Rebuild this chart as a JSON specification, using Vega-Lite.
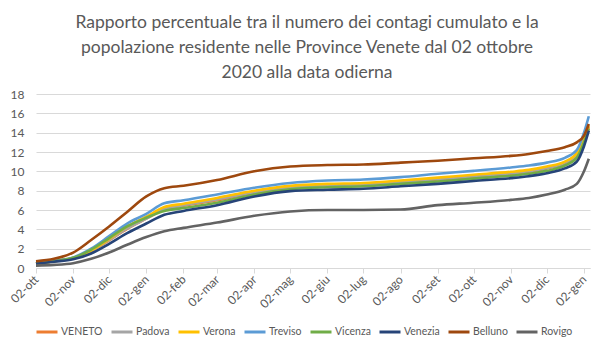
{
  "$schema": "https://vega.github.io/schema/vega-lite/v6.json",
  "autosize": "none",
  "padding": {"left": 36, "top": 94, "right": 24, "bottom": 85},
  "width": 554,
  "height": 174,
  "background": "white",
  "title": {
    "text": ["Rapporto percentuale tra il numero dei contagi cumulato e la", "popolazione residente nelle Province Venete dal 02 ottobre", "2020 alla data odierna"],
    "anchor": "middle",
    "dx": -6,
    "offset": 7,
    "font": "Lato",
    "fontSize": 17.5,
    "fontWeight": "normal",
    "color": "#595959",
    "lineHeight": 25
  },
  "config": {
    "view": {"stroke": null},
    "font": "Lato"
  },
  "data": {
    "values": [
      {"d":"2020-10-02","s":"VENETO","v":0.45},{"d":"2020-10-17","s":"VENETO","v":0.7},{"d":"2020-11-02","s":"VENETO","v":1.0},{"d":"2020-11-17","s":"VENETO","v":1.75},{"d":"2020-12-02","s":"VENETO","v":2.85},{"d":"2020-12-17","s":"VENETO","v":4.05},{"d":"2021-01-02","s":"VENETO","v":5.1},{"d":"2021-01-17","s":"VENETO","v":6.05},{"d":"2021-02-02","s":"VENETO","v":6.45},{"d":"2021-03-02","s":"VENETO","v":7.0},{"d":"2021-04-02","s":"VENETO","v":7.8},{"d":"2021-05-02","s":"VENETO","v":8.3},{"d":"2021-06-02","s":"VENETO","v":8.5},{"d":"2021-07-02","s":"VENETO","v":8.6},{"d":"2021-08-02","s":"VENETO","v":8.85},{"d":"2021-09-02","s":"VENETO","v":9.15},{"d":"2021-10-02","s":"VENETO","v":9.45},{"d":"2021-11-02","s":"VENETO","v":9.75},{"d":"2021-11-17","s":"VENETO","v":9.95},{"d":"2021-12-02","s":"VENETO","v":10.3},{"d":"2021-12-17","s":"VENETO","v":10.85},{"d":"2021-12-27","s":"VENETO","v":11.75},{"d":"2022-01-02","s":"VENETO","v":13.4},{"d":"2022-01-06","s":"VENETO","v":14.5},
      {"d":"2020-10-02","s":"Padova","v":0.5},{"d":"2020-10-17","s":"Padova","v":0.7},{"d":"2020-11-02","s":"Padova","v":1.0},{"d":"2020-11-17","s":"Padova","v":1.75},{"d":"2020-12-02","s":"Padova","v":2.9},{"d":"2020-12-17","s":"Padova","v":4.1},{"d":"2021-01-02","s":"Padova","v":5.1},{"d":"2021-01-17","s":"Padova","v":6.1},{"d":"2021-02-02","s":"Padova","v":6.5},{"d":"2021-03-02","s":"Padova","v":7.1},{"d":"2021-04-02","s":"Padova","v":7.85},{"d":"2021-05-02","s":"Padova","v":8.35},{"d":"2021-06-02","s":"Padova","v":8.55},{"d":"2021-07-02","s":"Padova","v":8.65},{"d":"2021-08-02","s":"Padova","v":8.9},{"d":"2021-09-02","s":"Padova","v":9.2},{"d":"2021-10-02","s":"Padova","v":9.5},{"d":"2021-11-02","s":"Padova","v":9.8},{"d":"2021-11-17","s":"Padova","v":10.0},{"d":"2021-12-02","s":"Padova","v":10.35},{"d":"2021-12-17","s":"Padova","v":10.9},{"d":"2021-12-27","s":"Padova","v":11.8},{"d":"2022-01-02","s":"Padova","v":13.4},{"d":"2022-01-06","s":"Padova","v":14.6},
      {"d":"2020-10-02","s":"Verona","v":0.45},{"d":"2020-10-17","s":"Verona","v":0.7},{"d":"2020-11-02","s":"Verona","v":1.05},{"d":"2020-11-17","s":"Verona","v":1.8},{"d":"2020-12-02","s":"Verona","v":3.0},{"d":"2020-12-17","s":"Verona","v":4.3},{"d":"2021-01-02","s":"Verona","v":5.3},{"d":"2021-01-17","s":"Verona","v":6.3},{"d":"2021-02-02","s":"Verona","v":6.65},{"d":"2021-03-02","s":"Verona","v":7.25},{"d":"2021-04-02","s":"Verona","v":8.0},{"d":"2021-05-02","s":"Verona","v":8.5},{"d":"2021-06-02","s":"Verona","v":8.7},{"d":"2021-07-02","s":"Verona","v":8.8},{"d":"2021-08-02","s":"Verona","v":9.05},{"d":"2021-09-02","s":"Verona","v":9.35},{"d":"2021-10-02","s":"Verona","v":9.65},{"d":"2021-11-02","s":"Verona","v":9.95},{"d":"2021-11-17","s":"Verona","v":10.15},{"d":"2021-12-02","s":"Verona","v":10.5},{"d":"2021-12-17","s":"Verona","v":11.0},{"d":"2021-12-27","s":"Verona","v":11.9},{"d":"2022-01-02","s":"Verona","v":13.5},{"d":"2022-01-06","s":"Verona","v":14.7},
      {"d":"2020-10-02","s":"Treviso","v":0.5},{"d":"2020-10-17","s":"Treviso","v":0.75},{"d":"2020-11-02","s":"Treviso","v":1.1},{"d":"2020-11-17","s":"Treviso","v":2.0},{"d":"2020-12-02","s":"Treviso","v":3.3},{"d":"2020-12-17","s":"Treviso","v":4.6},{"d":"2021-01-02","s":"Treviso","v":5.6},{"d":"2021-01-17","s":"Treviso","v":6.7},{"d":"2021-02-02","s":"Treviso","v":7.0},{"d":"2021-03-02","s":"Treviso","v":7.6},{"d":"2021-04-02","s":"Treviso","v":8.3},{"d":"2021-05-02","s":"Treviso","v":8.8},{"d":"2021-06-02","s":"Treviso","v":9.05},{"d":"2021-07-02","s":"Treviso","v":9.15},{"d":"2021-08-02","s":"Treviso","v":9.4},{"d":"2021-09-02","s":"Treviso","v":9.75},{"d":"2021-10-02","s":"Treviso","v":10.05},{"d":"2021-11-02","s":"Treviso","v":10.4},{"d":"2021-11-17","s":"Treviso","v":10.6},{"d":"2021-12-02","s":"Treviso","v":10.9},{"d":"2021-12-17","s":"Treviso","v":11.4},{"d":"2021-12-27","s":"Treviso","v":12.2},{"d":"2022-01-02","s":"Treviso","v":14.0},{"d":"2022-01-06","s":"Treviso","v":15.7},
      {"d":"2020-10-02","s":"Vicenza","v":0.45},{"d":"2020-10-17","s":"Vicenza","v":0.7},{"d":"2020-11-02","s":"Vicenza","v":1.05},{"d":"2020-11-17","s":"Vicenza","v":1.9},{"d":"2020-12-02","s":"Vicenza","v":3.1},{"d":"2020-12-17","s":"Vicenza","v":4.3},{"d":"2021-01-02","s":"Vicenza","v":5.2},{"d":"2021-01-17","s":"Vicenza","v":5.9},{"d":"2021-02-02","s":"Vicenza","v":6.2},{"d":"2021-03-02","s":"Vicenza","v":6.75},{"d":"2021-04-02","s":"Vicenza","v":7.6},{"d":"2021-05-02","s":"Vicenza","v":8.15},{"d":"2021-06-02","s":"Vicenza","v":8.35},{"d":"2021-07-02","s":"Vicenza","v":8.45},{"d":"2021-08-02","s":"Vicenza","v":8.7},{"d":"2021-09-02","s":"Vicenza","v":8.95},{"d":"2021-10-02","s":"Vicenza","v":9.25},{"d":"2021-11-02","s":"Vicenza","v":9.55},{"d":"2021-11-17","s":"Vicenza","v":9.75},{"d":"2021-12-02","s":"Vicenza","v":10.05},{"d":"2021-12-17","s":"Vicenza","v":10.6},{"d":"2021-12-27","s":"Vicenza","v":11.4},{"d":"2022-01-02","s":"Vicenza","v":13.0},{"d":"2022-01-06","s":"Vicenza","v":14.4},
      {"d":"2020-10-02","s":"Venezia","v":0.45},{"d":"2020-10-17","s":"Venezia","v":0.65},{"d":"2020-11-02","s":"Venezia","v":0.9},{"d":"2020-11-17","s":"Venezia","v":1.5},{"d":"2020-12-02","s":"Venezia","v":2.5},{"d":"2020-12-17","s":"Venezia","v":3.6},{"d":"2021-01-02","s":"Venezia","v":4.6},{"d":"2021-01-17","s":"Venezia","v":5.5},{"d":"2021-02-02","s":"Venezia","v":5.9},{"d":"2021-03-02","s":"Venezia","v":6.5},{"d":"2021-04-02","s":"Venezia","v":7.4},{"d":"2021-05-02","s":"Venezia","v":7.95},{"d":"2021-06-02","s":"Venezia","v":8.1},{"d":"2021-07-02","s":"Venezia","v":8.2},{"d":"2021-08-02","s":"Venezia","v":8.45},{"d":"2021-09-02","s":"Venezia","v":8.7},{"d":"2021-10-02","s":"Venezia","v":9.0},{"d":"2021-11-02","s":"Venezia","v":9.3},{"d":"2021-11-17","s":"Venezia","v":9.5},{"d":"2021-12-02","s":"Venezia","v":9.8},{"d":"2021-12-17","s":"Venezia","v":10.3},{"d":"2021-12-27","s":"Venezia","v":11.0},{"d":"2022-01-02","s":"Venezia","v":12.6},{"d":"2022-01-06","s":"Venezia","v":14.2},
      {"d":"2020-10-02","s":"Belluno","v":0.7},{"d":"2020-10-17","s":"Belluno","v":0.95},{"d":"2020-11-02","s":"Belluno","v":1.6},{"d":"2020-11-17","s":"Belluno","v":2.9},{"d":"2020-12-02","s":"Belluno","v":4.3},{"d":"2020-12-17","s":"Belluno","v":5.8},{"d":"2021-01-02","s":"Belluno","v":7.4},{"d":"2021-01-17","s":"Belluno","v":8.25},{"d":"2021-02-02","s":"Belluno","v":8.5},{"d":"2021-03-02","s":"Belluno","v":9.1},{"d":"2021-04-02","s":"Belluno","v":10.0},{"d":"2021-05-02","s":"Belluno","v":10.5},{"d":"2021-06-02","s":"Belluno","v":10.65},{"d":"2021-07-02","s":"Belluno","v":10.7},{"d":"2021-08-02","s":"Belluno","v":10.9},{"d":"2021-09-02","s":"Belluno","v":11.1},{"d":"2021-10-02","s":"Belluno","v":11.35},{"d":"2021-11-02","s":"Belluno","v":11.6},{"d":"2021-11-17","s":"Belluno","v":11.8},{"d":"2021-12-02","s":"Belluno","v":12.1},{"d":"2021-12-17","s":"Belluno","v":12.5},{"d":"2021-12-27","s":"Belluno","v":13.0},{"d":"2022-01-02","s":"Belluno","v":13.7},{"d":"2022-01-06","s":"Belluno","v":14.9},
      {"d":"2020-10-02","s":"Rovigo","v":0.25},{"d":"2020-10-17","s":"Rovigo","v":0.32},{"d":"2020-11-02","s":"Rovigo","v":0.5},{"d":"2020-11-17","s":"Rovigo","v":0.95},{"d":"2020-12-02","s":"Rovigo","v":1.6},{"d":"2020-12-17","s":"Rovigo","v":2.4},{"d":"2021-01-02","s":"Rovigo","v":3.2},{"d":"2021-01-17","s":"Rovigo","v":3.8},{"d":"2021-02-02","s":"Rovigo","v":4.15},{"d":"2021-03-02","s":"Rovigo","v":4.7},{"d":"2021-04-02","s":"Rovigo","v":5.4},{"d":"2021-05-02","s":"Rovigo","v":5.85},{"d":"2021-06-02","s":"Rovigo","v":6.0},{"d":"2021-07-02","s":"Rovigo","v":6.0},{"d":"2021-08-02","s":"Rovigo","v":6.05},{"d":"2021-09-02","s":"Rovigo","v":6.5},{"d":"2021-10-02","s":"Rovigo","v":6.75},{"d":"2021-11-02","s":"Rovigo","v":7.05},{"d":"2021-11-17","s":"Rovigo","v":7.25},{"d":"2021-12-02","s":"Rovigo","v":7.6},{"d":"2021-12-17","s":"Rovigo","v":8.1},{"d":"2021-12-27","s":"Rovigo","v":8.7},{"d":"2022-01-02","s":"Rovigo","v":10.0},{"d":"2022-01-06","s":"Rovigo","v":11.3}
    ]
  },
  "mark": {"type": "line", "strokeWidth": 2.6, "interpolate": "monotone"},
  "encoding": {
    "x": {
      "field": "d",
      "type": "temporal",
      "scale": {"type": "utc", "domain": [{"year": 2020, "month": 10, "date": 2, "utc": true}, {"year": 2022, "month": 1, "date": 7, "utc": true}]},
      "axis": {
        "title": null,
        "values": [
          {"year": 2020, "month": 10, "date": 2, "utc": true},
          {"year": 2020, "month": 11, "date": 2, "utc": true},
          {"year": 2020, "month": 12, "date": 2, "utc": true},
          {"year": 2021, "month": 1, "date": 2, "utc": true},
          {"year": 2021, "month": 2, "date": 2, "utc": true},
          {"year": 2021, "month": 3, "date": 2, "utc": true},
          {"year": 2021, "month": 4, "date": 2, "utc": true},
          {"year": 2021, "month": 5, "date": 2, "utc": true},
          {"year": 2021, "month": 6, "date": 2, "utc": true},
          {"year": 2021, "month": 7, "date": 2, "utc": true},
          {"year": 2021, "month": 8, "date": 2, "utc": true},
          {"year": 2021, "month": 9, "date": 2, "utc": true},
          {"year": 2021, "month": 10, "date": 2, "utc": true},
          {"year": 2021, "month": 11, "date": 2, "utc": true},
          {"year": 2021, "month": 12, "date": 2, "utc": true},
          {"year": 2022, "month": 1, "date": 2, "utc": true}
        ],
        "labelExpr": "'02-' + ['gen','feb','mar','apr','mag','giu','lug','ago','set','ott','nov','dic'][utcmonth(datum.value)]",
        "labelAngle": -45,
        "labelAlign": "right",
        "labelBaseline": "middle",
        "labelFontSize": 12,
        "labelColor": "#595959",
        "labelFont": "Lato",
        "labelPadding": 4,
        "labelOverlap": false,
        "labelFlush": false,
        "grid": false,
        "domainColor": "#d9d9d9",
        "tickColor": "#d9d9d9",
        "tickSize": 5
      }
    },
    "y": {
      "field": "v",
      "type": "quantitative",
      "scale": {"domain": [0, 18], "nice": false},
      "axis": {
        "title": null,
        "values": [0, 2, 4, 6, 8, 10, 12, 14, 16, 18],
        "domain": false,
        "ticks": false,
        "gridColor": "#d9d9d9",
        "labelFontSize": 12,
        "labelColor": "#595959",
        "labelFont": "Lato",
        "labelPadding": 12
      }
    },
    "color": {
      "field": "s",
      "type": "nominal",
      "sort": ["VENETO", "Padova", "Verona", "Treviso", "Vicenza", "Venezia", "Belluno", "Rovigo"],
      "scale": {
        "domain": ["VENETO", "Padova", "Verona", "Treviso", "Vicenza", "Venezia", "Belluno", "Rovigo"],
        "range": ["#ED7D31", "#A5A5A5", "#FFC000", "#5B9BD5", "#70AD47", "#264478", "#9E480E", "#636363"]
      },
      "legend": {
        "title": null,
        "orient": "none",
        "legendX": -1,
        "legendY": 226,
        "direction": "horizontal",
        "columns": 8,
        "gridAlign": "none",
        "symbolType": "stroke",
        "symbolStrokeWidth": 3,
        "symbolSize": 441,
        "columnPadding": 2,
        "labelOffset": 2,
        "labelFontSize": 10.5,
        "labelColor": "#595959",
        "labelFont": "Lato"
      }
    },
    "order": {"field": "d", "type": "temporal"}
  }
}
